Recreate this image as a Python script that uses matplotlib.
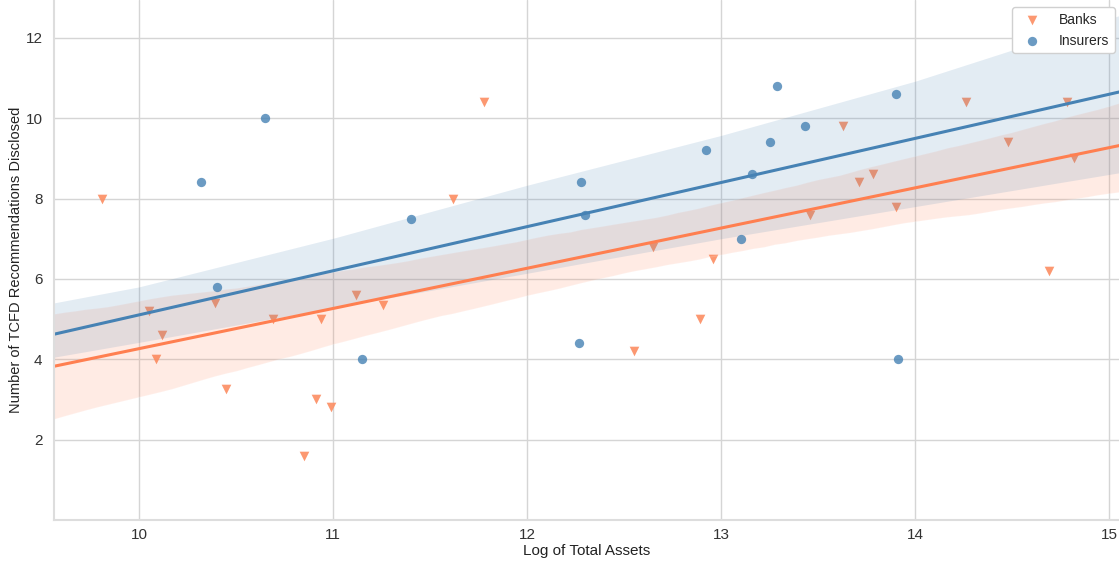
import numpy as np
import pandas as pd
import matplotlib
matplotlib.use("Agg")
import matplotlib.pyplot as plt
import seaborn as sns

# Log of total assets and number of TCFD recommendations disclosed
bank_assets = [9.81, 10.05, 10.12, 10.09, 10.39, 10.45, 10.69, 10.91, 10.94, 10.99,
               10.85, 11.12, 11.26, 11.62, 11.78, 12.55, 12.89, 12.65, 12.96, 13.46,
               13.71, 13.78, 13.63, 13.90, 14.26, 14.48, 14.69, 14.78, 14.82]
bank_disclosed = [8.0, 5.2, 4.6, 4.0, 5.4, 3.25, 5.0, 3.0, 5.0, 2.8,
                  1.6, 5.6, 5.35, 8.0, 10.4, 4.2, 5.0, 6.8, 6.5, 7.6,
                  8.4, 8.6, 9.8, 7.8, 10.4, 9.4, 6.2, 10.4, 9.0]

insurer_assets = [10.32, 10.65, 10.40, 11.15, 11.40, 12.28, 12.30, 12.27, 12.92, 13.10,
                  13.16, 13.25, 13.29, 13.43, 13.90, 13.91]
insurer_disclosed = [8.4, 10.0, 5.8, 4.0, 7.5, 8.4, 7.6, 4.4, 9.2, 7.0,
                     8.6, 9.4, 10.8, 9.8, 10.6, 4.0]

# Insurer trend line and its 95% confidence band
insurer_trend_x = [9.56, 15.05]
insurer_trend_y = [4.62, 10.65]
insurer_band_x = [9.56, 10.0, 11.0, 12.0, 13.0, 14.0, 15.05]
insurer_band_upper = [5.40, 5.80, 7.01, 8.33, 9.57, 10.92, 12.55]
insurer_band_lower = [4.05, 4.42, 5.28, 6.14, 7.00, 7.80, 8.64]

banks = pd.DataFrame({"assets": bank_assets, "disclosed": bank_disclosed})

XLIM = (9.56, 15.05)
YLIM = (0, 12.94)

sns.set_style("whitegrid")
plt.rcParams["font.family"] = ["Liberation Sans", "DejaVu Sans"]

fig = plt.figure(figsize=(11.19, 5.67), dpi=100)
ax = fig.add_axes([53.5 / 1119, 47 / 567, 1 - 53.5 / 1119, 1 - 47 / 567])
ax.set_xlim(*XLIM)
ax.set_ylim(*YLIM)

bank_color = "#fc8d62"
insurer_color = "steelblue"

sns.regplot(data=banks, x="assets", y="disclosed", ax=ax, truncate=False,
            marker="v", color="coral", seed=7,
            scatter_kws={"s": 48, "color": bank_color, "alpha": 0.9, "linewidths": 0},
            line_kws={"lw": 2.2, "color": "coral"}, label="Banks")

ax.scatter(insurer_assets, insurer_disclosed, s=45, marker="o",
           color=insurer_color, alpha=0.8, linewidths=0, label="Insurers", zorder=3)
ax.fill_between(insurer_band_x, insurer_band_lower, insurer_band_upper,
                color=insurer_color, alpha=0.15, linewidth=0, zorder=1)
ax.plot(insurer_trend_x, insurer_trend_y, color=insurer_color, lw=2.2, zorder=2)

ax.set_xlim(*XLIM)
ax.set_ylim(*YLIM)
ax.set_xticks([10, 11, 12, 13, 14, 15])
ax.set_yticks([2, 4, 6, 8, 10, 12])
ax.tick_params(labelsize=11, colors="#333333", length=0)
ax.tick_params(axis="x", pad=6)
ax.tick_params(axis="y", pad=8)
ax.grid(True, color="#d5d5d5", lw=1)
for side in ("top", "right"):
    ax.spines[side].set_visible(False)
for side in ("left", "bottom"):
    ax.spines[side].set_color("#dddddd")
    ax.spines[side].set_linewidth(1.5)

ax.set_xlabel("Log of Total Assets", fontsize=11, color="#222222", labelpad=1.5)
ax.set_ylabel("Number of TCFD Recommendations Disclosed", fontsize=10.5,
              color="#222222")
ax.yaxis.set_label_coords(-0.0285, 0.5)

ax.legend(loc="upper right", fontsize=10, frameon=True, framealpha=1,
          edgecolor="#d0d0d0", borderpad=0.4, handletextpad=0.95,
          borderaxespad=0, bbox_to_anchor=(0.9962, 0.9865))

fig.savefig("out.png", dpi=100)
